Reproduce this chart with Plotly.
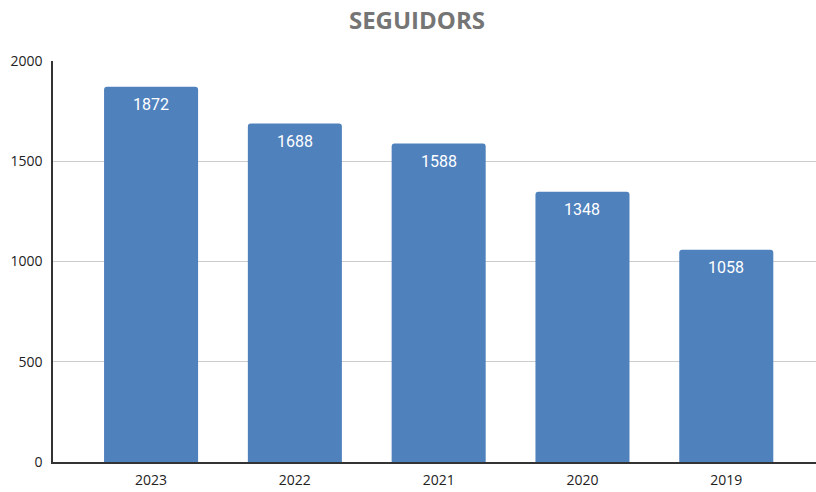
import plotly.graph_objects as go

years = ["2023", "2022", "2021", "2020", "2019"]
followers = [1872, 1688, 1588, 1348, 1058]
y_ticks = [0, 500, 1000, 1500, 2000]

bar_color = "#4f81bd"

fig = go.Figure(
    go.Bar(
        x=years,
        y=followers,
        width=0.654,
        marker=dict(color=bar_color, line=dict(width=0), cornerradius=3),
        hoverinfo="x+y",
    )
)

# value labels just under each bar's top edge (category index as x position)
for i, v in enumerate(followers):
    fig.add_annotation(
        x=i,
        y=v,
        text=str(v),
        showarrow=False,
        xanchor="center",
        yanchor="top",
        yshift=-6,
        font=dict(family="Roboto", size=16, color="white"),
    )

fig.update_layout(
    width=816,
    height=492,
    margin=dict(l=53, r=0, t=61, b=30),
    paper_bgcolor="white",
    plot_bgcolor="white",
    showlegend=False,
    title=dict(
        text="<b>SEGUIDORS</b>",
        x=0.511,
        xanchor="center",
        y=0.958,
        yanchor="middle",
        font=dict(family="Open Sans", size=24, color="#757575"),
    ),
    xaxis=dict(
        type="category",
        range=[-0.682, 4.624],
        showgrid=False,
        showline=True,
        linecolor="#333333",
        linewidth=1.5,
        ticks="",
        tickfont=dict(family="Open Sans", size=14, color="#222222"),
        ticklabelstandoff=4,
        fixedrange=True,
    ),
    yaxis=dict(
        range=[0, 2000],
        tickvals=y_ticks,
        ticktext=[str(v) for v in y_ticks],
        showgrid=True,
        gridcolor="#cccccc",
        gridwidth=1,
        showline=True,
        linecolor="#333333",
        linewidth=1.5,
        zeroline=False,
        ticks="",
        tickfont=dict(family="Open Sans", size=14, color="#222222"),
        ticklabelstandoff=6,
        fixedrange=True,
    ),
)

fig.write_html("out.html")
